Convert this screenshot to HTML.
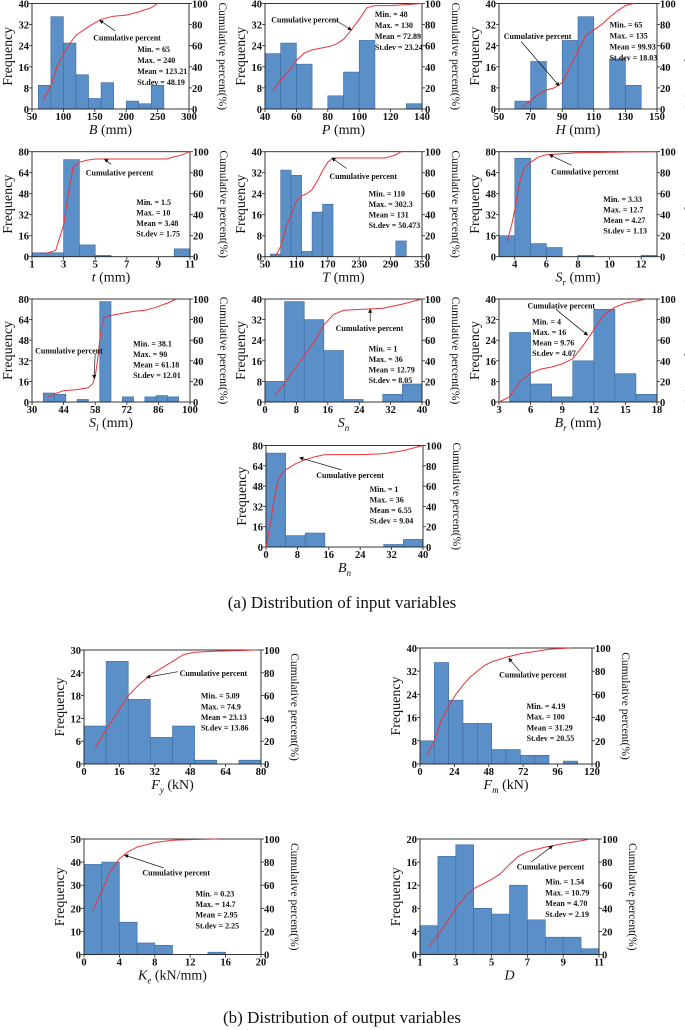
<!DOCTYPE html>
<html><head><meta charset="utf-8">
<style>
html,body{margin:0;padding:0;background:#fff;}
svg{display:block;}
text{font-family:"Liberation Serif",serif;fill:#111;}
.tk{font-size:10.5px;font-weight:bold;}
.st{font-size:8px;font-weight:bold;}
.an{font-size:8px;font-weight:bold;}
.yl{font-size:14px;}
.rl{font-size:11.5px;}
.xl{font-size:14px;}
.cap{font-size:17px;}
</style></head>
<body>
<svg id="fig" width="685" height="1030" viewBox="0 0 685 1030" xmlns="http://www.w3.org/2000/svg">
<text class="cap" x="342" y="608" text-anchor="middle">(a) Distribution of input variables</text>
<text class="cap" x="342" y="1023" text-anchor="middle">(b) Distribution of output variables</text>
</svg>
<script>
// ---- data ----
const bLefts=[60,80,100,120,140,160,180,200,220,240];
const bFreq=[9,35,25,13,4,10,0,3,2,9];
const bCumX=[68,80,90,100,110,120,140,160,180,200,220,240,250];
const bCumY=[8,22,40,52,62,70,78,85,88,89,92,96,100];
const bStats=["Min. = 65","Max. = 240","Mean = 123.21","St.dev = 48.19"];

const pLefts=[40,50,60,70,80,90,100,110,120,130];
const pFreq=[21,25,17,0,5,14,26,0,0,2];
const pCumX=[45,50,55,60,65,70,80,85,90,95,100,105,110,120,130,140];
const pCumY=[18,27,36,46,53,56,59,61,66,75,85,96,98,98,99,100];
const pStats=["Min. = 48","Max. = 130","Mean = 72.89","St.dev = 23.24"];

const hLefts=[60,70,80,90,100,110,120,130];
const hFreq=[3,18,0,26,35,0,19,9];
const hCumX=[65,70,75,80,85,90,95,100,105,110,115,120,125,130,135];
const hCumY=[2,8,14,18,20,25,40,55,70,75,80,87,93,98,100];
const hStats=["Min. = 65","Max. = 135","Mean = 99.93","St.dev = 18.03"];

const tLefts=[1,2,3,4,5,6,7,8,9,10];
const tFreq=[3,3,74,9,1,0,0,0,0,6];
const tCumX=[1.5,2,2.5,3,3.3,3.6,4,4.5,5,6,8,9.5,10,10.5,11];
const tCumY=[3,3.5,6,30,60,85,90,92,93,93,93,93,95,97,100];
const tStats=["Min. = 1.5","Max. = 10","Mean = 3.48","St.dev = 1.75"];

const TLefts=[60,80,100,120,140,160,300];
const TFreq=[1,33,31,2,17,20,6];
const TCumX=[70,80,90,100,110,120,130,140,150,160,170,180,200,240,280,300,310];
const TCumY=[0,10,28,40,53,58,60,64,72,82,90,94,94,94,94,97,100];
const TStats=["Min. = 110","Max. = 302.3","Mean = 131","St.dev = 50.473"];

const srLefts=[3,4,5,6,7,8,9,10,11,12];
const srFreq=[16,75,10,7,0,1,0,0,0,1];
const srCumX=[3.5,3.8,4,4.3,4.6,5,5.5,6,7,8,10,13];
const srCumY=[14,30,45,70,85,90,95,97,98,99,99.5,100];
const srStats=["Min. = 3.33","Max. = 12.7","Mean = 4.27","St.dev = 1.13"];

const slLefts=[35,40,45,50,55,60,65,70,75,80,85,90];
const slFreq=[7,6,0,2,0,78,0,4,0,4,5,4];
const slCumX=[37,40,44,50,55,57,58,59,60,61,62,65,70,75,80,85,90,94];
const slCumY=[5,8,11,12,14,18,25,40,60,75,82,84,86,88,89,92,96,100];
const slStats=["Min. = 38.1","Max. = 90","Mean = 61.18","St.dev = 12.01"];

const snLefts=[0,5,10,15,20,25,30,35];
const snFreq=[8,39,32,20,1,0,3,7];
const snCumX=[2.5,5,7.5,10,12.5,15,17.5,20,25,30,35,40];
const snCumY=[6,18,32,45,58,75,85,89,90,91,95,100];
const snStats=["Min. = 1","Max. = 36","Mean = 12.79","St.dev = 8.05"];

const brLefts=[4,6,8,10,12,14,16];
const brFreq=[27,7,2,16,36,11,3];
const brCumX=[3,4,5,6,7,8,9,10,11,12,13,14,15,16,17];
const brCumY=[0,5,20,28,32,34,37,42,55,70,85,92,96,98,100];
const brStats=["Min. = 4","Max. = 16","Mean = 9.76","St.dev = 4.07"];

const bnLefts=[0,5,10,15,20,25,30,35];
const bnFreq=[74,9,11,0,0,0,2,6];
const bnCumX=[0,1,2,3,4,5,7.5,10,12.5,15,20,25,30,35,40];
const bnCumY=[0,20,45,65,72,76,82,86,89,91,91,91,92,95,100];
const bnStats=["Min. = 1","Max. = 36","Mean = 6.55","St.dev = 9.04"];

const fyLefts=[0,10,20,30,40,50,60,70];
const fyFreq=[10,27,17,7,10,1,0,1];
const fyCumX=[5,10,15,20,25,30,35,40,45,50,60,70,78];
const fyCumY=[14,30,45,60,70,78,84,90,96,98,99,99.5,100];
const fyStats=["Min. = 5.09","Max. = 74.9","Mean = 23.13","St.dev = 13.86"];

const fmLefts=[0,10,20,30,40,50,60,70,80,90,100];
const fmFreq=[8,35,22,14,14,5,5,3,3,0,1];
const fmCumX=[5,10,15,20,25,30,35,40,45,50,60,70,80,90,105];
const fmCumY=[8,20,38,50,60,68,75,80,85,88,92,95,97,99,100];
const fmStats=["Min. = 4.19","Max. = 100","Mean = 31.29","St.dev = 20.55"];

const keLefts=[0,2,4,6,8,10,12,14];
const keFreq=[39,40,14,5,4,0,0,1];
const keCumX=[1,2,3,4,5,6,7,8,10,12,15];
const keCumY=[38,55,72,83,89,93,95,97,99,99.5,100];
const keStats=["Min. = 0.23","Max. = 14.7","Mean = 2.95","St.dev = 2.25"];

const dLefts=[1,2,3,4,5,6,7,8,9,10];
const dFreq=[5,17,19,8,7,12,6,3,3,1];
const dCumX=[1.5,2,2.5,3,3.5,4,5,5.5,6,6.5,7,8,9,10,10.5];
const dCumY=[7,17,28,40,50,57,65,70,78,85,89,93,96,98.5,100];
const dStats=["Min. = 1.54","Max. = 10.79","Mean = 4.70","St.dev = 2.19"];

const panels=[
 {id:'b',L:32,R:189,T:3.5,B:109,xmin:50,xmax:300,xt:[50,100,150,200,250,300],ymax:40,yt:[0,8,16,24,32,40],bw:20,lefts:bLefts,freq:bFreq,cx:bCumX,cy:bCumY,stats:bStats,sx:.67,sy:.43,sp:11,ax:.39,ay:.32,hx:158,hy:84,tx:.53,ty:.26,title:['B',' (mm)','']},
 {id:'p',L:265,R:422,T:3.5,B:109,xmin:40,xmax:140,xt:[40,60,80,100,120,140],ymax:40,yt:[0,8,16,24,32,40],bw:10,lefts:pLefts,freq:pFreq,cx:pCumX,cy:pCumY,stats:pStats,sx:.7,sy:.1,sp:11,ax:.04,ay:.15,hx:95,hy:75,tx:.45,ty:.16,title:['P',' (mm)','']},
 {id:'h',L:499,R:657,T:3.5,B:109,xmin:50,xmax:150,xt:[50,70,90,110,130,150],ymax:40,yt:[0,8,16,24,32,40],bw:10,lefts:hLefts,freq:hFreq,cx:hCumX,cy:hCumY,stats:hStats,sx:.7,sy:.2,sp:11,ax:.03,ay:.31,hx:88,hy:22,tx:.14,ty:.36,title:['H',' (mm)','']},
 {id:'t',L:32,R:190,T:151.7,B:256.7,xmin:1,xmax:11,xt:[1,3,5,7,9,11],ymax:80,yt:[0,16,32,48,64,80],bw:1,lefts:tLefts,freq:tFreq,cx:tCumX,cy:tCumY,stats:tStats,sx:.66,sy:.48,sp:10.5,ax:.34,ay:.2,hx:5.6,hy:93,tx:.5,ty:.12,title:['t',' (mm)','']},
 {id:'T',L:265,R:422,T:151.7,B:256.7,xmin:50,xmax:350,xt:[50,110,170,230,290,350],ymax:40,yt:[0,8,16,24,32,40],bw:20,lefts:TLefts,freq:TFreq,cx:TCumX,cy:TCumY,stats:TStats,sx:.66,sy:.4,sp:10.5,ax:.41,ay:.23,hx:178,hy:94,tx:.52,ty:.16,title:['T',' (mm)','']},
 {id:'sr',L:499,R:657,T:151.7,B:256.7,xmin:3,xmax:13,xt:[4,6,8,10,12],ymax:80,yt:[0,16,32,48,64,80],bw:1,lefts:srLefts,freq:srFreq,cx:srCumX,cy:srCumY,stats:srStats,sx:.66,sy:.45,sp:10.5,ax:.33,ay:.19,hx:6.2,hy:97,tx:.46,ty:.13,title:['S',' (mm)','r']},
 {id:'sl',L:32,R:190,T:299,B:402,xmin:30,xmax:100,xt:[30,44,58,72,86,100],ymax:80,yt:[0,16,32,48,64,80],bw:5,lefts:slLefts,freq:slFreq,cx:slCumX,cy:slCumY,stats:slStats,sx:.64,sy:.43,sp:10.5,ax:.02,ay:.5,hx:57.5,hy:23,tx:.4,ty:.53,title:['S',' (mm)','l']},
 {id:'sn',L:265,R:422,T:299,B:402,xmin:0,xmax:40,xt:[0,8,16,24,32,40],ymax:40,yt:[0,8,16,24,32,40],bw:5,lefts:snLefts,freq:snFreq,cx:snCumX,cy:snCumY,stats:snStats,sx:.66,sy:.48,sp:10.5,ax:.45,ay:.28,hx:26.8,hy:90,tx:.67,ty:.22,title:['S','','n']},
 {id:'br',L:499,R:657,T:299,B:402,xmin:3,xmax:18,xt:[3,6,9,12,15,18],ymax:40,yt:[0,8,16,24,32,40],bw:2,lefts:brLefts,freq:brFreq,cx:brCumX,cy:brCumY,stats:brStats,sx:.21,sy:.22,sp:10.5,ax:.18,ay:.065,hx:11.4,hy:65,tx:.36,ty:.1,title:['B',' (mm)','r']},
 {id:'bn',L:266,R:423,T:445.5,B:547,xmin:0,xmax:40,xt:[0,8,16,24,32,40],ymax:80,yt:[0,16,32,48,64,80],bw:5,lefts:bnLefts,freq:bnFreq,cx:bnCumX,cy:bnCumY,stats:bnStats,sx:.66,sy:.43,sp:10.5,ax:.32,ay:.29,hx:8.6,hy:88,tx:.48,ty:.24,title:['B','','n']},
 {id:'fy',L:84,R:261,T:650,B:764,xmin:0,xmax:80,xt:[0,16,32,48,64,80],ymax:30,yt:[0,6,12,18,24,30],bw:10,lefts:fyLefts,freq:fyFreq,cx:fyCumX,cy:fyCumY,stats:fyStats,sx:.66,sy:.4,sp:10.7,ax:.54,ay:.2,hx:28.3,hy:76,tx:.53,ty:.19,title:['F',' (kN)','y']},
 {id:'fm',L:420,R:592,T:648,B:764,xmin:0,xmax:120,xt:[0,24,48,72,96,120],ymax:40,yt:[0,8,16,24,32,40],bw:10,lefts:fmLefts,freq:fmFreq,cx:fmCumX,cy:fmCumY,stats:fmStats,sx:.62,sy:.5,sp:10.7,ax:.46,ay:.23,hx:62,hy:91,tx:.58,ty:.2,title:['F',' (kN)','m']},
 {id:'ke',L:84,R:261,T:839,B:954.5,xmin:0,xmax:20,xt:[0,4,8,12,16,20],ymax:50,yt:[0,10,20,30,40,50],bw:2,lefts:keLefts,freq:keFreq,cx:keCumX,cy:keCumY,stats:keStats,sx:.63,sy:.47,sp:10.7,ax:.33,ay:.29,hx:4.6,hy:86,tx:.45,ty:.25,title:['K',' (kN/mm)','e']},
 {id:'d',L:420,R:599,T:839,B:954.5,xmin:1,xmax:11,xt:[1,3,5,7,9,11],ymax:20,yt:[0,4,8,12,16,20],bw:1,lefts:dLefts,freq:dFreq,cx:dCumX,cy:dCumY,stats:dStats,sx:.7,sy:.37,sp:10.7,ax:.54,ay:.24,hx:8.4,hy:94,tx:.62,ty:.2,title:['D','','']}
];

const NS='http://www.w3.org/2000/svg';
const svg=document.getElementById('fig');
function mk(tag,attrs,parent,txt){const e=document.createElementNS(NS,tag);for(const k in attrs)e.setAttribute(k,attrs[k]);if(txt!==undefined)e.textContent=txt;(parent||svg).appendChild(e);return e;}
const defs=mk('defs',{});
const mkr=mk('marker',{id:'ah',markerWidth:6,markerHeight:6,refX:5,refY:3,orient:'auto'},defs);
mk('path',{d:'M0,0 L6,3 L0,6 z',fill:'#111'},mkr);

panels.forEach(p=>{
  const g=mk('g',{});
  
  
  const W=p.R-p.L,H=p.B-p.T;
  const xs=v=>p.L+(v-p.xmin)/(p.xmax-p.xmin)*W;
  const ys=v=>p.B-v/p.ymax*H;
  const yc=v=>p.B-v/100*H;
  p.lefts.forEach((x0,i)=>{
    if(p.freq[i]<=0)return;
    const r=mk('rect',{x:xs(x0),y:ys(p.freq[i]),width:xs(x0+p.bw)-xs(x0),height:p.B-ys(p.freq[i]),fill:'#5a8fc8',stroke:'#3e6a9e','stroke-width':0.6},g);
    
    
  });
  const fr=mk('rect',{x:p.L,y:p.T,width:W,height:H,fill:'none',stroke:'#222','stroke-width':0.9},g);
  
  
  p.xt.forEach(v=>{
    mk('line',{x1:xs(v),x2:xs(v),y1:p.B,y2:p.B+3,stroke:'#222','stroke-width':0.8},g);
    const t=mk('text',{x:xs(v),y:p.B+11,'text-anchor':'middle',class:'tk'},g,v);
    
    
  });
  p.yt.forEach(v=>{
    mk('line',{x1:p.L-3,x2:p.L,y1:ys(v),y2:ys(v),stroke:'#222','stroke-width':0.8},g);
    const t=mk('text',{x:p.L-3,y:ys(v)+4,'text-anchor':'end',class:'tk'},g,v);
    
    
  });
  [0,20,40,60,80,100].forEach(v=>{
    mk('line',{x1:p.R,x2:p.R+3,y1:yc(v),y2:yc(v),stroke:'#222','stroke-width':0.8},g);
    const t=mk('text',{x:p.R+3,y:yc(v)+4,'text-anchor':'start',class:'tk'},g,v);
    
    
  });
  const yl=mk('text',{x:0,y:0,class:'yl','text-anchor':'middle',transform:`translate(${p.L-20},${p.T+H/2}) rotate(-90)`},g,'Frequency');
  
  
  const rl=mk('text',{x:0,y:0,class:'rl','text-anchor':'middle',transform:`translate(${p.R+30},${p.T+H/2}) rotate(90)`},g,'Cumulative percent(%)');
  
  
  const xl=mk('text',{x:p.L+W/2,y:p.B+25,class:'xl','text-anchor':'middle'},g);
  
  
  mk('tspan',{'font-style':'italic'},xl,p.title[0]);
  if(p.title[2]){mk('tspan',{'font-style':'italic','font-size':'9px',dy:4},xl,p.title[2]);}
  if(p.title[1]){mk('tspan',{dy:p.title[2]?-4:0},xl,p.title[1]);}
  let d='';
  p.cx.forEach((x,i)=>{d+=(i?'L':'M')+xs(x).toFixed(1)+','+yc(p.cy[i]).toFixed(1);});
  const c=mk('path',{d:d,fill:'none',stroke:'#e8343a','stroke-width':1},g);
  
  
  const at=mk('text',{x:p.L+p.ax*W,y:p.T+p.ay*H+3,class:'an'},g,'Cumulative percent');
  
  
  const ar=mk('line',{x1:p.L+p.tx*W,y1:p.T+p.ty*H,x2:xs(p.hx),y2:yc(p.hy),stroke:'#111','stroke-width':0.7,'marker-end':'url(#ah)'},g);
  
  
  p.stats.forEach((s,i)=>{
    const t=mk('text',{x:p.L+p.sx*W,y:p.T+p.sy*H+3+i*p.sp,class:'st'},g,s);
    
    
  });
});
</script>
</body></html>
